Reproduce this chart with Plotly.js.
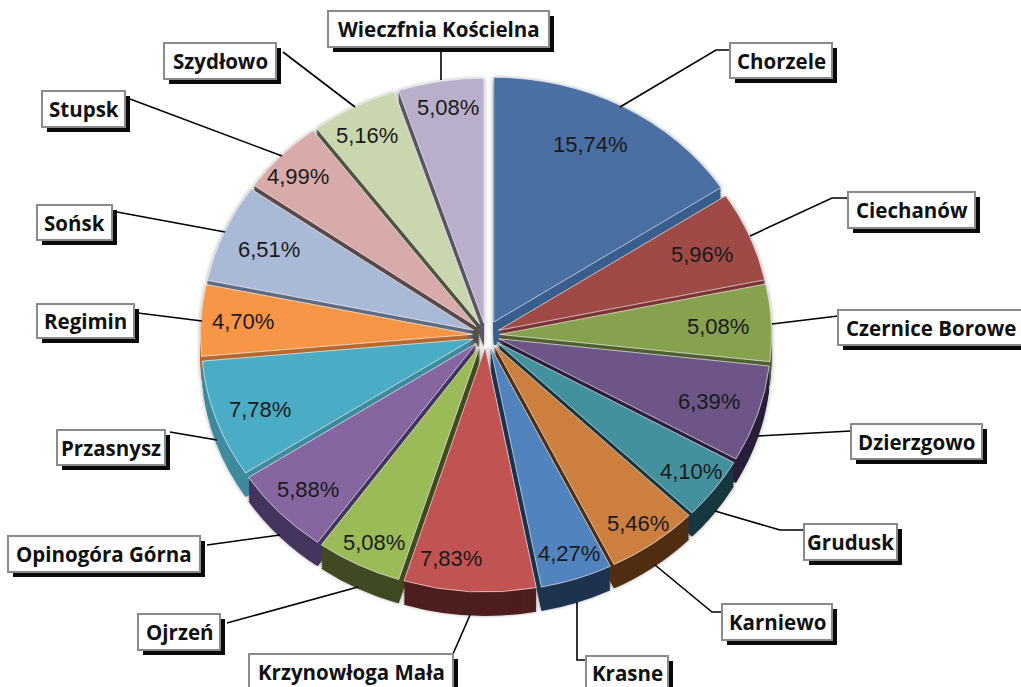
<!DOCTYPE html>
<html>
<head>
<meta charset="utf-8">
<script src="https://cdn.plot.ly/plotly-3.0.1.min.js"></script>
<style>html,body{margin:0;padding:0;background:#fff;overflow:hidden}</style>
</head>
<body>
<div id="chart" style="width:1021px;height:687px"></div>
<script>
const categories = ["Chorzele","Ciechanów","Czernice Borowe","Dzierzgowo","Grudusk","Karniewo","Krasne","Krzynowłoga Mała","Ojrzeń","Opinogóra Górna","Przasnysz","Regimin","Sońsk","Stupsk","Szydłowo","Wieczfnia Kościelna"];
const values = [15.74,5.96,5.08,6.39,4.10,5.46,4.27,7.83,5.08,5.88,7.78,4.70,6.51,4.99,5.16,5.08];
const topColors = ["#4A6FA2","#A04A48","#86A24F","#6D5588","#43919F","#CC7F3E","#5183BF","#C25353","#9BBB59","#8566A0","#4BACC6","#F79646","#AAB9D6","#D9AAAA","#CAD7AE","#B9AFCB"];
const sideColors = ["#3A5E8C","#7B3535","#4F6030","#2A1F3A","#173840","#502E12","#1E3350","#4E1E1E","#404A22","#45345F","#3F8A9F","#B5682F","#5F6B82","#5B4848","#4E5540","#5A5468"];
const pulls = [0.06,0.05,0.05,0.05,0.05,0.05,0.05,0.05,0.05,0.05,0.05,0.05,0.05,0.05,0.05,0.05];
const boxes = [[730,43,832,78],[848,192,975,228],[838,310,1024,345],[851,424,982,459],[804,524,897,560],[722,604,832,640],[586,656,668,692],[249,654,453,692],[138,614,220,650],[8,536,200,572],[57,430,165,465],[37,304,134,338],[37,205,112,240],[42,91,125,127],[164,43,276,79],[328,11,549,47]];
const percentAt = [[590,145],[702,254],[718,326],[709,401],[691,471],[638,523],[569,553],[451,558],[374,542],[308,489],[260,409],[243,321],[269,249],[298,176],[367,135],[448,107]];
const leaders = [
 [[730,50],[716,50],[620,107]],
 [[848,198],[832,198],[750,236]],
 [[838,316],[772,324]],
 [[851,431],[757,436]],
 [[804,530],[780,530],[715,511]],
 [[722,612],[712,612],[655,565]],
 [[577,602],[577,660],[586,660]],
 [[470,615],[453,654]],
 [[358,587],[227,623]],
 [[280,535],[207,545]],
 [[217,440],[170,432]],
 [[202,321],[138,313]],
 [[225,232],[117,212]],
 [[282,156],[130,99]],
 [[355,107],[283,52]],
 [[441,80],[441,50]]
];
const W = 1021, H = 687, CX = 486, CY = 335, R = 288.3, SQUASH = 0.9;
const depths = [24,22,20,18,16,14,12,10,8,6,4,2,0];
const px = x => x / W, py = y => 1 - y / H;

const traces = depths.map(s => {
  const c = CY + s / SQUASH;
  return {
    type: 'pie', labels: categories, values: values, sort: false, direction: 'clockwise', rotation: 0,
    pull: pulls, textinfo: 'none', hoverinfo: 'label+percent', showlegend: false,
    domain: {x: [px(CX - R), px(CX + R)], y: [py(c + R), py(c - R)]},
    marker: s === 0 ? {colors: topColors, line: {color: 'rgba(255,255,255,0.65)', width: 1}}
                    : {colors: sideColors, line: {color: 'rgba(0,0,0,0)', width: 0}}
  };
});

const shapes = [];
leaders.forEach(pts => {
  const d = pts.map((p, i) => (i ? 'L' : 'M') + px(p[0]) + ',' + py(p[1])).join(' ');
  shapes.push({type: 'path', xref: 'paper', yref: 'paper', path: d, line: {color: '#000', width: 1.6}});
});
boxes.forEach(b => {
  shapes.push({type: 'rect', xref: 'paper', yref: 'paper', x0: px(b[0] + 5), x1: px(b[2] + 5), y0: py(b[1] + 5), y1: py(b[3] + 5), fillcolor: '#0a0a0a', line: {width: 0}});
  shapes.push({type: 'rect', xref: 'paper', yref: 'paper', x0: px(b[0]), x1: px(b[2]), y0: py(b[1]), y1: py(b[3]), fillcolor: '#fff', line: {color: '#8a8a8a', width: 2}});
});

const annotations = [];
categories.forEach((name, i) => {
  const b = boxes[i];
  annotations.push({xref: 'paper', yref: 'paper', x: px((b[0] + Math.min(b[2], 1024)) / 2), y: py((b[1] + Math.min(b[3], 689)) / 2 ), xanchor: 'center', yanchor: 'middle', showarrow: false, text: '<b>' + name + '</b>', font: {family: '"Open Sans", sans-serif', size: 20.5, color: '#111'}});
  const p = percentAt[i];
  annotations.push({xref: 'paper', yref: 'paper', x: px(p[0]), y: py(p[1]), xanchor: 'center', yanchor: 'middle', showarrow: false, text: values[i].toFixed(2).replace('.', ',') + '%', font: {family: '"Liberation Sans", Arial, sans-serif', size: 22, color: '#1a1a1a'}});
});

const layout = {width: W, height: H, margin: {l: 0, r: 0, t: 0, b: 0}, paper_bgcolor: '#fff', plot_bgcolor: '#fff', showlegend: false, shapes: shapes, annotations: annotations, separators: ', '};

function squash() {
  const g = document.querySelector('#chart .pielayer');
  if (g) {
    g.setAttribute('transform', 'translate(0,' + CY + ') scale(1,' + SQUASH + ') translate(0,' + (-CY) + ')');
    g.style.filter = 'drop-shadow(0 0 2px rgba(0,0,0,0.35))';
  }
}
Plotly.newPlot('chart', traces, layout, {displayModeBar: false, responsive: false}).then(() => {
  squash();
  document.getElementById('chart').on('plotly_afterplot', squash);
});
</script>
</body>
</html>
